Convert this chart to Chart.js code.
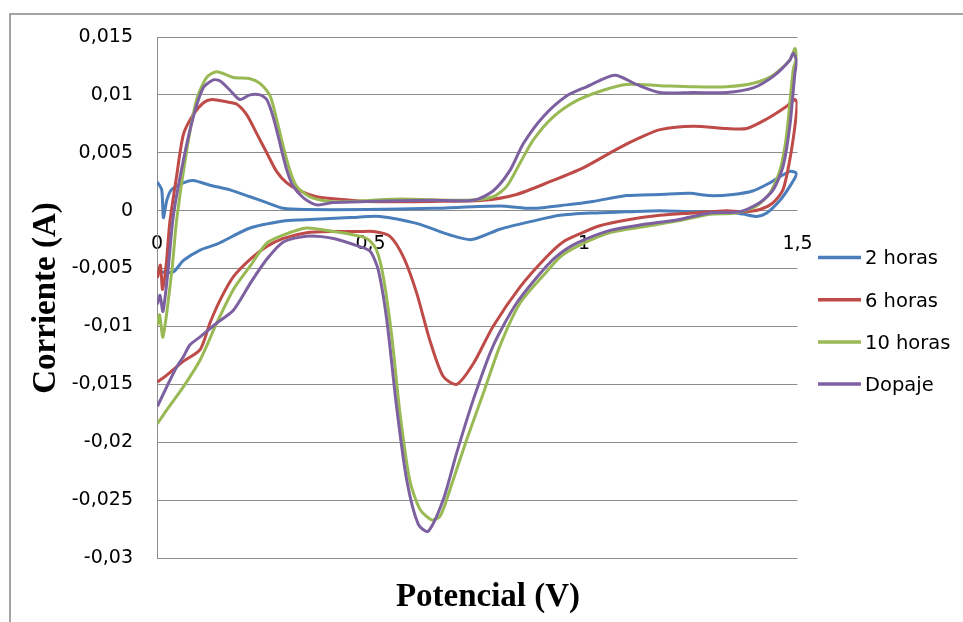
<!DOCTYPE html>
<html>
<head>
<meta charset="utf-8">
<script src="https://cdn.jsdelivr.net/npm/chart.js@4.4.1/dist/chart.umd.min.js"></script>
<style>
  html, body { margin: 0; padding: 0; background: #fff; }
</style>
</head>
<body>
<canvas id="cv" width="963" height="622"></canvas>
<script>
// Potencial (V) / Corriente (A): forward scan then return scan
const volts2h = [0.000, 0.011, 0.015, 0.023, 0.034, 0.062, 0.085, 0.124, 0.171, 0.218, 0.257, 0.296, 0.350, 0.491, 0.646, 0.803, 0.880, 0.959, 1.021, 1.100, 1.178, 1.248, 1.295, 1.349, 1.395, 1.435, 1.482, 1.498,
  1.482, 1.459, 1.428, 1.404, 1.373, 1.334, 1.256, 1.178, 1.100, 1.021, 0.944, 0.880, 0.803, 0.737, 0.686, 0.608, 0.522, 0.452, 0.335, 0.296, 0.218, 0.140, 0.101, 0.062, 0.038, 0.015, 0.001];
const amps2h = [0.0025, 0.0018, -0.0006, 0.0009, 0.0018, 0.0024, 0.0026, 0.0022, 0.0018, 0.0012, 0.0007, 0.0002, 0.0001, 0.0001, 0.0002, 0.0004, 0.0002, 0.0005, 0.0008, 0.0013, 0.0014, 0.0015, 0.0013, 0.0014, 0.0017, 0.0024, 0.0034, 0.0032,
  0.0021, 0.0009, -0.0002, -0.0005, -0.0003, -0.0001, -0.0001, 0.0000, -0.0001, -0.0002, -0.0004, -0.0009, -0.0016, -0.0025, -0.0021, -0.0011, -0.0005, -0.0006, -0.0008, -0.0009, -0.0015, -0.0029, -0.0034, -0.0043, -0.0053, -0.0053, -0.0054];

const volts6h = [0.001, 0.008, 0.013, 0.022, 0.030, 0.046, 0.062, 0.085, 0.108, 0.128, 0.163, 0.187, 0.210, 0.233, 0.257, 0.280, 0.304, 0.335, 0.374, 0.421, 0.491, 0.647, 0.764, 0.842, 0.920, 0.998, 1.076, 1.131, 1.178, 1.256, 1.334, 1.381, 1.427, 1.474, 1.494, 1.499,
  1.494, 1.482, 1.466, 1.443, 1.412, 1.373, 1.334, 1.256, 1.178, 1.100, 1.037, 0.990, 0.951, 0.912, 0.850, 0.787, 0.741, 0.702, 0.670, 0.639, 0.608, 0.577, 0.545, 0.506, 0.475, 0.413, 0.350, 0.296, 0.257, 0.218, 0.179, 0.148, 0.124, 0.101, 0.062, 0.023, 0.001];
const amps6h = [-0.0058, -0.0047, -0.0068, -0.0045, -0.0010, 0.0030, 0.0066, 0.0083, 0.0093, 0.0096, 0.0094, 0.0092, 0.0083, 0.0067, 0.0050, 0.0034, 0.0024, 0.0017, 0.0012, 0.0010, 0.0008, 0.0008, 0.0009, 0.0014, 0.0025, 0.0037, 0.0053, 0.0063, 0.0070, 0.0073, 0.0071, 0.0071, 0.0079, 0.0090, 0.0096, 0.0093,
  0.0073, 0.0044, 0.0018, 0.0007, 0.0001, -0.0001, 0.0000, -0.0002, -0.0004, -0.0008, -0.0013, -0.0020, -0.0027, -0.0040, -0.0066, -0.0100, -0.0132, -0.0150, -0.0143, -0.0112, -0.0071, -0.0040, -0.0022, -0.0018, -0.0018, -0.0018, -0.0019, -0.0024, -0.0031, -0.0042, -0.0057, -0.0077, -0.0097, -0.0120, -0.0130, -0.0142, -0.0148];

const volts10h = [0.001, 0.006, 0.014, 0.035, 0.046, 0.070, 0.093, 0.116, 0.140, 0.179, 0.218, 0.241, 0.265, 0.280, 0.296, 0.311, 0.327, 0.358, 0.405, 0.452, 0.569, 0.725, 0.787, 0.819, 0.850, 0.881, 0.928, 0.983, 1.045, 1.100, 1.178, 1.256, 1.334, 1.396, 1.443, 1.482, 1.494, 1.498,
  1.490, 1.474, 1.459, 1.435, 1.404, 1.357, 1.295, 1.217, 1.139, 1.061, 0.983, 0.944, 0.912, 0.850, 0.803, 0.764, 0.725, 0.686, 0.663, 0.643, 0.616, 0.592, 0.569, 0.550, 0.530, 0.514, 0.495, 0.475, 0.413, 0.350, 0.296, 0.257, 0.218, 0.179, 0.140, 0.101, 0.062, 0.023, 0.001];
const amps10h = [-0.0099, -0.0090, -0.0109, -0.0051, -0.0008, 0.0053, 0.0096, 0.0115, 0.0120, 0.0115, 0.0114, 0.0110, 0.0099, 0.0079, 0.0055, 0.0035, 0.0021, 0.0012, 0.0008, 0.0008, 0.0010, 0.0009, 0.0012, 0.0021, 0.0041, 0.0061, 0.0081, 0.0095, 0.0104, 0.0109, 0.0108, 0.0107, 0.0107, 0.0110, 0.0117, 0.0130, 0.0140, 0.0133,
  0.0122, 0.0064, 0.0035, 0.0015, 0.0004, -0.0002, -0.0003, -0.0009, -0.0014, -0.0019, -0.0031, -0.0040, -0.0053, -0.0080, -0.0117, -0.0158, -0.0198, -0.0241, -0.0264, -0.0267, -0.0258, -0.0233, -0.0175, -0.0109, -0.0057, -0.0034, -0.0025, -0.0022, -0.0018, -0.0015, -0.0021, -0.0028, -0.0048, -0.0068, -0.0097, -0.0129, -0.0152, -0.0172, -0.0184];

const voltsDop = [0.001, 0.007, 0.014, 0.026, 0.038, 0.062, 0.085, 0.108, 0.132, 0.148, 0.171, 0.194, 0.218, 0.241, 0.257, 0.272, 0.288, 0.304, 0.319, 0.343, 0.374, 0.413, 0.491, 0.647, 0.741, 0.787, 0.827, 0.858, 0.904, 0.959, 1.006, 1.072, 1.123, 1.178, 1.256, 1.334, 1.396, 1.443, 1.482, 1.490, 1.498,
  1.494, 1.482, 1.466, 1.443, 1.412, 1.365, 1.295, 1.217, 1.139, 1.061, 0.983, 0.944, 0.912, 0.842, 0.787, 0.741, 0.702, 0.670, 0.635, 0.612, 0.585, 0.561, 0.538, 0.518, 0.499, 0.475, 0.413, 0.350, 0.296, 0.257, 0.218, 0.179, 0.140, 0.101, 0.077, 0.062, 0.046, 0.023, 0.001];
const ampsDop = [-0.0081, -0.0073, -0.0087, -0.0051, -0.0005, 0.0044, 0.0081, 0.0106, 0.0113, 0.0112, 0.0104, 0.0096, 0.0100, 0.0100, 0.0096, 0.0081, 0.0058, 0.0035, 0.0021, 0.0011, 0.0005, 0.0007, 0.0008, 0.0009, 0.0009, 0.0017, 0.0035, 0.0058, 0.0081, 0.0099, 0.0107, 0.0117, 0.0109, 0.0102, 0.0102, 0.0102, 0.0106, 0.0116, 0.0130, 0.0136, 0.0129,
  0.0119, 0.0073, 0.0038, 0.0018, 0.0007, -0.0001, -0.0002, -0.0008, -0.0012, -0.0017, -0.0028, -0.0037, -0.0048, -0.0080, -0.0117, -0.0163, -0.0209, -0.0250, -0.0277, -0.0271, -0.0233, -0.0169, -0.0094, -0.0051, -0.0035, -0.0031, -0.0024, -0.0022, -0.0027, -0.0042, -0.0063, -0.0086, -0.0097, -0.0109, -0.0116, -0.0126, -0.0135, -0.0152, -0.0169];

const seriesNames = ['2 horas', '6 horas', '10 horas', 'Dopaje'];
const seriesColors = ['#4a7ebb', '#be4b48', '#98b954', '#7d60a0'];

const xTickLabels = ['0', '0,5', '1', '1,5'];
const yTickLabels = ['-0,03', '-0,025', '-0,02', '-0,015', '-0,01', '-0,005', '0', '0,005', '0,01', '0,015'];

const GRID = '#8c8c8c';
const TICK_FONT = { family: 'DejaVu Sans', size: 19 };

function toPoints(xs, ys) {
  return xs.map((x, i) => ({ x, y: ys[i] }));
}

const loops = [
  toPoints(volts2h, amps2h),
  toPoints(volts6h, amps6h),
  toPoints(volts10h, amps10h),
  toPoints(voltsDop, ampsDop),
];

// frame, axis titles and legend drawn on the canvas next to the plot
const decorations = {
  id: 'decorations',
  beforeDraw(chart) {
    const ctx = chart.ctx;
    ctx.save();
    ctx.fillStyle = '#fff';
    ctx.fillRect(0, 0, chart.width, chart.height);
    ctx.strokeStyle = '#878787';
    ctx.lineWidth = 1.5;
    ctx.strokeRect(10, 14, 1200, 900);
    ctx.restore();
  },
  afterDraw(chart) {
    const ctx = chart.ctx;
    ctx.save();
    ctx.fillStyle = '#000';
    ctx.font = 'bold 33px "Liberation Serif"';
    ctx.textAlign = 'center';
    ctx.textBaseline = 'alphabetic';
    ctx.fillText('Potencial (V)', 488, 606);

    ctx.translate(55, 298);
    ctx.rotate(-Math.PI / 2);
    ctx.fillText('Corriente (A)', 0, 0);
    ctx.restore();

    ctx.save();
    ctx.font = '19.5px "DejaVu Sans"';
    ctx.textAlign = 'left';
    ctx.textBaseline = 'alphabetic';
    seriesNames.forEach((name, i) => {
      const y = 257.5 + i * 42.2;
      ctx.strokeStyle = seriesColors[i];
      ctx.lineWidth = 3.5;
      ctx.beginPath();
      ctx.moveTo(818, y);
      ctx.lineTo(861, y);
      ctx.stroke();
      ctx.fillStyle = '#000';
      ctx.fillText(name, 865, y + 6.8);
    });
    ctx.restore();
  },
};

new Chart(document.getElementById('cv'), {
  type: 'scatter',
  data: {
    datasets: loops.map((pts, i) => ({
      label: seriesNames[i],
      data: pts,
      showLine: true,
      borderColor: seriesColors[i],
      backgroundColor: seriesColors[i],
      borderWidth: 3,
      pointRadius: 0,
      tension: 0.25,
      fill: false,
      order: 3 - i,
    })),
  },
  options: {
    responsive: false,
    animation: false,
    events: [],
    layout: { padding: { left: 0, top: 37, right: 165.5, bottom: 64 } },
    plugins: {
      legend: { display: false },
      tooltip: { enabled: false },
    },
    scales: {
      x: {
        type: 'linear',
        position: { y: 0 },
        z: 1, // tick labels sit on top of the curves, as in the original
        min: 0,
        max: 1.5,
        grid: { display: false },
        border: { display: false },
        ticks: {
          stepSize: 0.5,
          maxRotation: 0,
          autoSkip: false,
          padding: 14,
          color: '#000',
          font: TICK_FONT,
          callback: (v, i) => xTickLabels[i] ?? String(v).replace('.', ','),
        },
      },
      y: {
        type: 'linear',
        min: -0.03,
        max: 0.015,
        afterFit(scale) { scale.width = 157; },
        grid: { color: GRID, lineWidth: 1, drawTicks: false },
        border: { color: GRID, width: 1 },
        ticks: {
          stepSize: 0.005,
          padding: 24,
          color: '#000',
          font: TICK_FONT,
          callback: (v, i) => yTickLabels[i] ?? String(v).replace('.', ','),
        },
      },
    },
  },
  plugins: [decorations],
});
</script>
</body>
</html>
